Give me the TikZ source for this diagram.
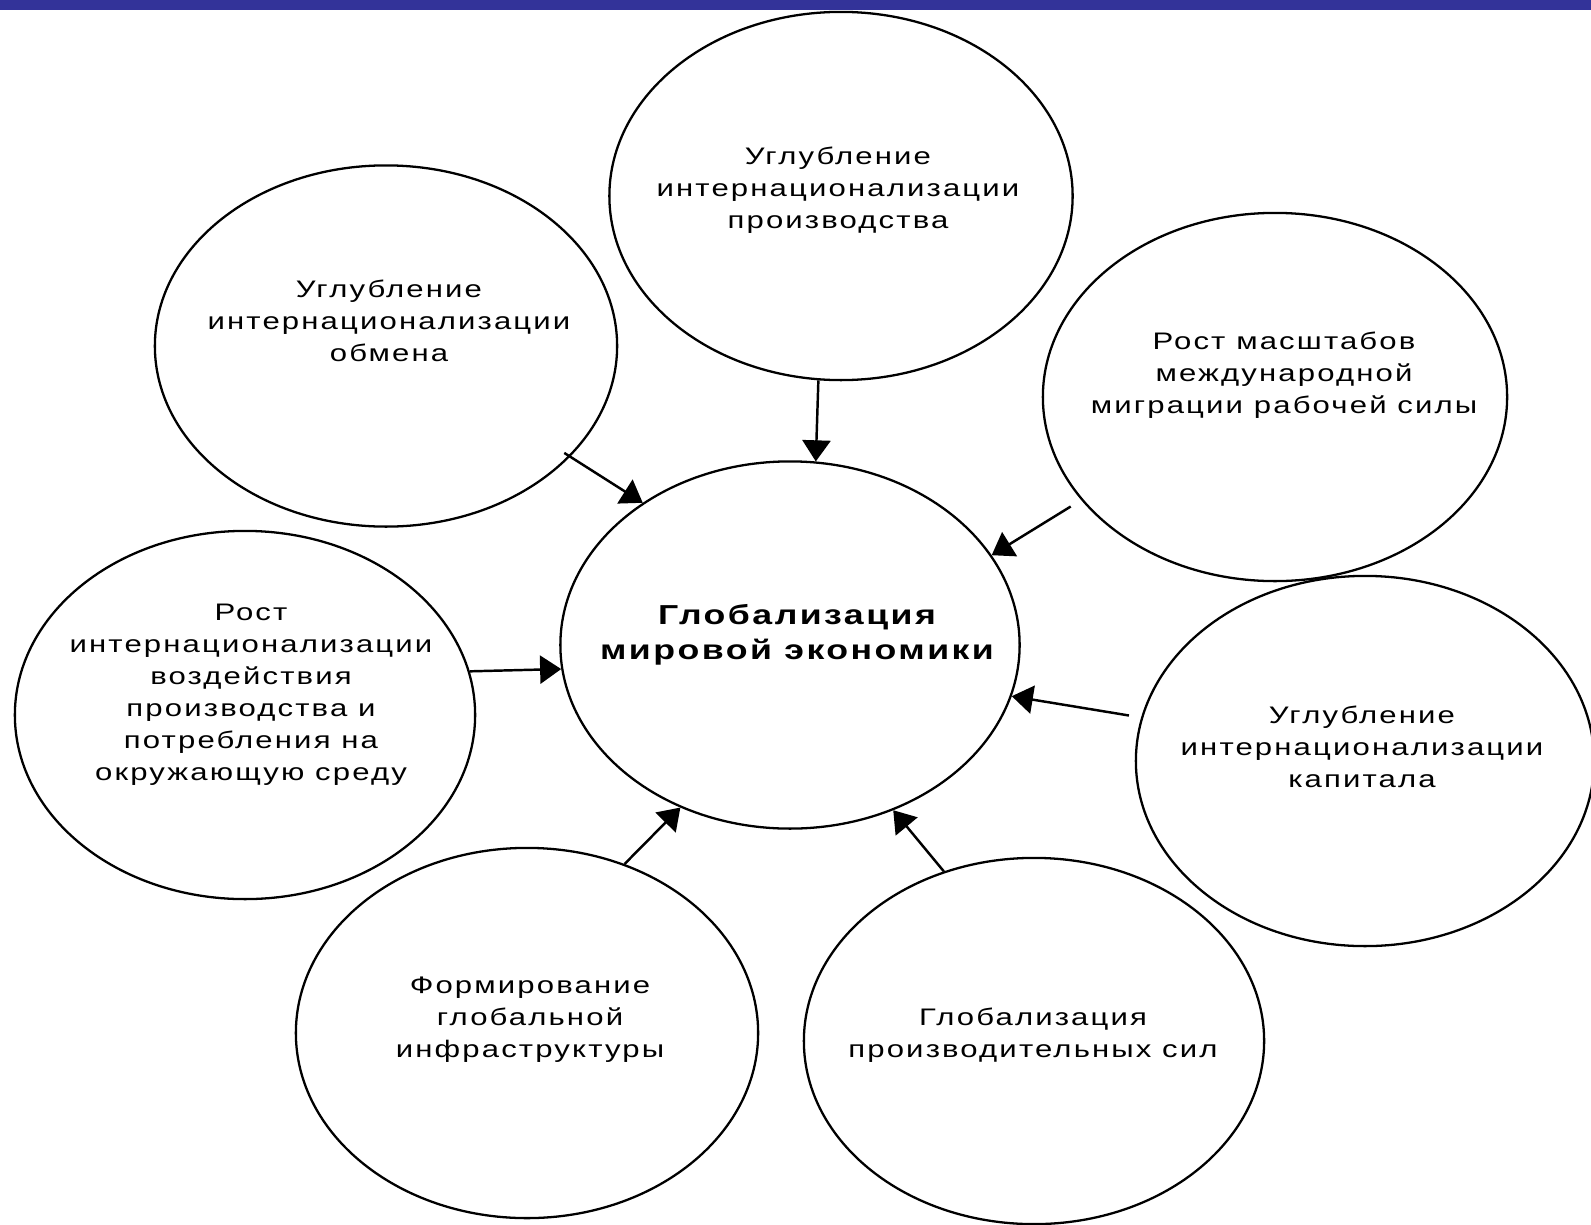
\documentclass[tikz,border=0pt]{standalone}
\usepackage{fontspec}
\setmainfont{Liberation Sans}[FakeStretch=1.3,LetterSpace=9]
\usetikzlibrary{shapes.geometric,arrows.meta}
\definecolor{barblue}{RGB}{51,51,153}
\tikzset{
  oval/.style={ellipse,draw=black,line width=0.65pt,inner sep=0pt,
    minimum width=4.62cm,minimum height=3.66cm},
  txt/.style={align=center,inner sep=0pt,font=\fontsize{6.8}{9.1}\selectfont},
  maintxt/.style={align=center,inner sep=0pt,font=\fontsize{7.8}{10}\selectfont\bfseries},
  arr/.style={line width=0.7pt,-{Triangle[length=6pt,width=8pt]}}
}
\begin{document}
\begin{tikzpicture}[x=0.01cm,y=-0.01cm]
\useasboundingbox (0,0) rectangle (1591,1224);
\fill[barblue] (0,0) rectangle (1591,10);
% ellipses
\node[oval,minimum width=4.63cm,minimum height=3.68cm] (top) at (841,196) {};
\node[oval,minimum height=3.61cm] (ul) at (386,346) {};
\node[oval,minimum width=4.64cm,minimum height=3.68cm] (ru) at (1275,397) {};
\node[oval,minimum width=4.59cm,minimum height=3.67cm] (c) at (790,645) {};
\node[oval,minimum width=4.60cm,minimum height=3.68cm] (l) at (245,715) {};
\node[oval,minimum width=4.58cm,minimum height=3.70cm] (rl) at (1365,761) {};
\node[oval,minimum height=3.70cm] (bl) at (527,1033) {};
\node[oval,minimum width=4.60cm] (br) at (1034,1041) {};
% texts
\node[txt] (ttop) at (838,190) {Углубление\\интернационализации\\производства};
\node[txt] (tul) at (389,321) {Углубление\\интернационализации\\обмена};
\node[txt] (tru) at (1284,375) {Рост масштабов\\международной\\миграции рабочей силы};
\node[maintxt] (tc) at (797,635) {Глобализация\\мировой экономики};
\node[txt] (tl) at (251,695) {Рост\\интернационализации\\воздействия\\производства и\\потребления на\\окружающую среду};
\node[txt] (trl) at (1362,747) {Углубление\\интернационализации\\капитала};
\node[txt] (tbl) at (530,1020) {Формирование\\глобальной\\инфраструктуры};
\node[txt] (tbr) at (1033,1035) {Глобализация\\производительных сил};
% arrows
\draw[arr] (top.263.6) -- (c.82.2);
\draw[arr,shorten <=-2pt] (ul.-31.9) -- (c.136.8);
\draw[arr,shorten <=3.5pt] (ru.208.9) -- (c.24);
\draw[arr] (l.11.3) -- (c.186.2);
\draw[arr,shorten <=3.5pt] (rl.169.1) -- (c.-13.7);
\draw[arr] (bl.60.8) -- (c.236.2);
\draw[arr] (br.118.6) -- (c.-58.3);
\end{tikzpicture}
\end{document}
